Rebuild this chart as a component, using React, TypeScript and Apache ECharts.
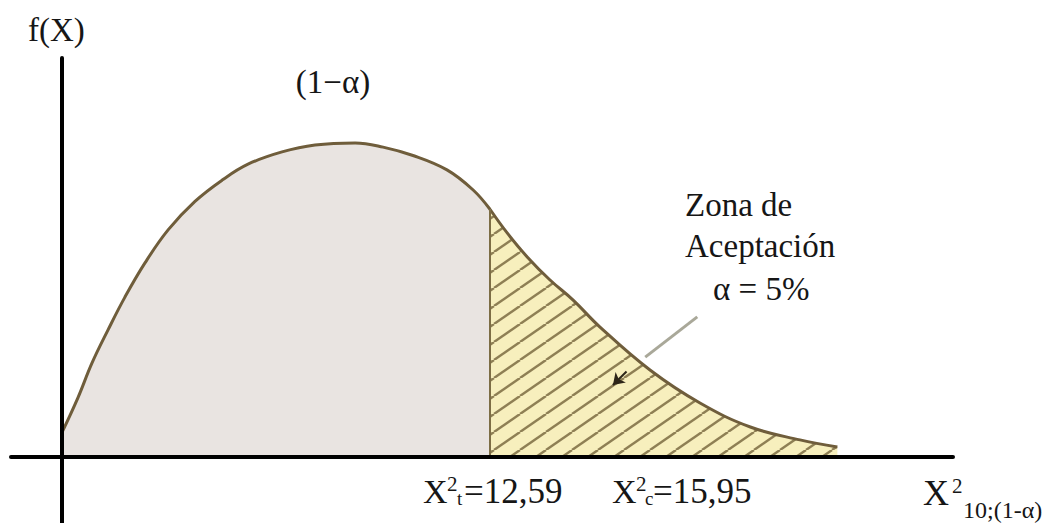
import React, { useEffect, useRef } from "react";
import * as echarts from "echarts";

// Curve (x in chi-square units, y = density f(X))
const xLeft = [0, 0.47, 0.88, 1.35, 1.85, 2.44, 3.12, 3.91, 4.71, 5.47, 6.47, 7.44, 8.62, 9.44, 10.32, 11.32, 12.09, 12.59];
const yLeft = [0.0082, 0.0198, 0.0313, 0.0423, 0.0533, 0.0647, 0.0757, 0.0852, 0.0923, 0.0976, 0.1017, 0.104, 0.1047, 0.1033, 0.1005, 0.0957, 0.089, 0.0825];
const xRight = [12.59, 13.09, 13.68, 14.35, 15.03, 15.82, 17.29, 18.76, 20.24, 21.7, 22.8];
const yRight = [0.0825, 0.0747, 0.0667, 0.059, 0.0523, 0.0433, 0.029, 0.018, 0.01, 0.0057, 0.0033];
const criticalValue = 12.59;
const arrowStart = [18.68, 0.0467];
const arrowMid = [17.15, 0.0333];
const arrowHeadFrom = [16.6, 0.0285];
const arrowHeadTo = [16.2, 0.024];

function txt(text: string, x: number, y: number, size: number, align = "left") {
  return {
    type: "text",
    x,
    y,
    silent: true,
    style: {
      text,
      fontSize: size,
      fontFamily: "Liberation Serif",
      fill: "#161616",
      align,
      verticalAlign: "middle",
    },
  };
}

export default function App() {
  const ref = useRef<HTMLDivElement>(null);
  useEffect(() => {
    if (!ref.current) return;
    const chart = echarts.init(ref.current, undefined, { renderer: "svg" });

    const tile = document.createElement("canvas");
    tile.width = 26;
    tile.height = 18;
    const ctx = tile.getContext("2d")!;
    ctx.fillStyle = "#f7efbd";
    ctx.fillRect(0, 0, 26, 18);
    ctx.strokeStyle = "#8e7f54";
    ctx.lineWidth = 2.4;
    for (const k of [-1, 0, 1]) {
      ctx.beginPath();
      ctx.moveTo(k * 26, 18);
      ctx.lineTo(k * 26 + 26, 0);
      ctx.stroke();
    }

    const left = xLeft.map((x, i) => [x, yLeft[i]]);
    const right = xRight.map((x, i) => [x, yRight[i]]);

    chart.setOption({
      animation: false,
      grid: { left: 11, right: 104, top: 58, bottom: 0 },
      xAxis: {
        type: "value",
        min: -1.5,
        max: 26.2,
        z: 5,
        axisLine: { show: true, onZero: true, lineStyle: { color: "#000", width: 4 } },
        axisTick: { show: false },
        axisLabel: { show: false },
        splitLine: { show: false },
      },
      yAxis: {
        type: "value",
        min: -0.022,
        max: 0.133,
        z: 5,
        axisLine: { show: true, onZero: true, lineStyle: { color: "#000", width: 4 } },
        axisTick: { show: false },
        axisLabel: { show: false },
        splitLine: { show: false },
      },
      series: [
        {
          type: "line",
          data: left,
          smooth: 0.4,
          showSymbol: false,
          symbol: "none",
          lineStyle: { color: "#6f5d3b", width: 3 },
          areaStyle: { color: "#e9e4e1", opacity: 1 },
          z: 2,
        },
        {
          type: "line",
          data: right,
          smooth: 0.4,
          showSymbol: false,
          symbol: "none",
          lineStyle: { color: "#6f5d3b", width: 3 },
          areaStyle: { color: { image: tile, repeat: "repeat" }, opacity: 1 },
          z: 2,
          markLine: {
            silent: true,
            animation: false,
            label: { show: false },
            symbol: ["none", "none"],
            data: [
              [
                { coord: [criticalValue, 0], lineStyle: { color: "#7d6d45", width: 2, type: "solid" } },
                { coord: [criticalValue, yRight[0]] },
              ],
              [
                { coord: arrowStart, lineStyle: { color: "#a9a899", width: 3, type: "solid" } },
                { coord: arrowMid },
              ],
              [
                {
                  coord: arrowHeadFrom,
                  symbol: "none",
                  lineStyle: { color: "#2e2618", width: 2, type: "solid" },
                },
                { coord: arrowHeadTo, symbol: "arrow", symbolSize: 11 },
              ],
            ],
          },
        },
      ],
      graphic: [
        txt("f(X)", 28, 30, 33),
        txt("(1\u2212\u03b1)", 333, 82, 33, "center"),
        txt("95%", 316, 250, 33, "center"),
        txt("Zona de Rechazo", 292, 354, 33, "center"),
        txt("Zona de", 685, 205, 33),
        txt("Aceptaci\u00f3n", 685, 246, 33),
        txt("\u03b1 = 5%", 713, 289, 33),
        txt("X", 423, 491, 34),
        txt("2", 447, 484, 21),
        txt("t", 457, 498, 19),
        txt("=12,59", 464, 491, 35),
        txt("X", 612, 491, 34),
        txt("2", 636, 484, 21),
        txt("c", 645, 498, 19),
        txt("=15,95", 653, 491, 35),
        txt("X", 923, 493, 36),
        txt("2", 952, 486, 21),
        txt("10;(1-\u03b1)", 963, 510, 24),
      ],
    });
    return () => chart.dispose();
  }, []);
  return (
    <div
      ref={ref}
      style={{ position: "absolute", left: 0, top: 0, width: 1057, height: 523, background: "#fff" }}
    />
  );
}
